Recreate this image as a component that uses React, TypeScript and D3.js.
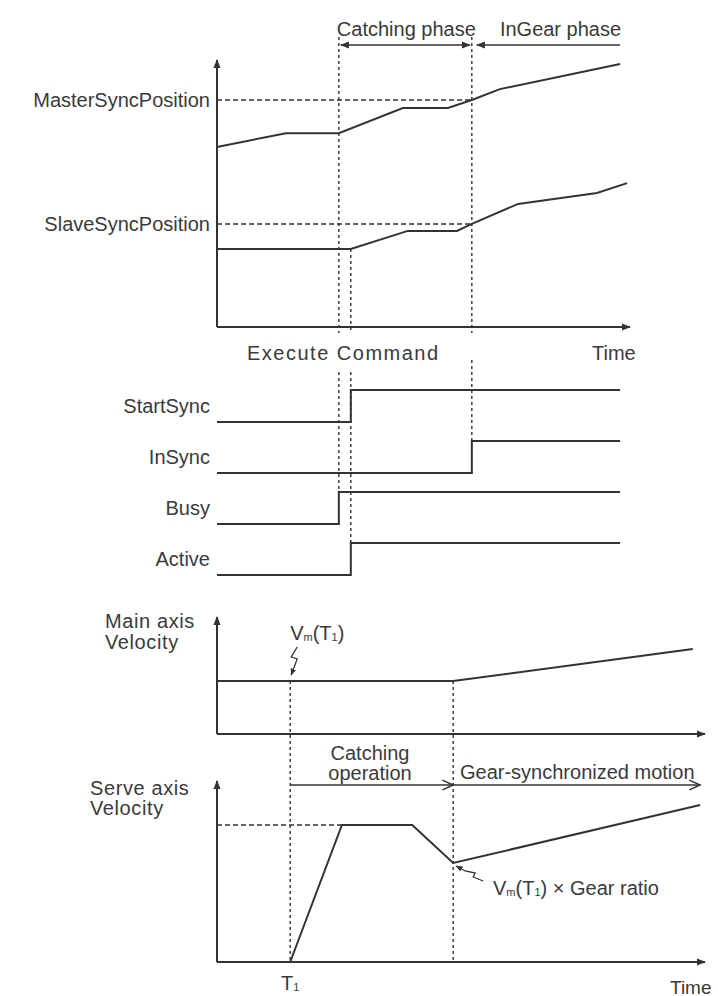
import * as d3 from "d3";

// --- top panel: position vs time (time 0..100, position 0..100)
const masterT = [0, 16.7, 29.5, 45.0, 55.9, 61.7, 68.5, 97.6];
const masterPos = [67.4, 72.6, 72.6, 82.0, 82.0, 85.0, 89.1, 98.5];
const slaveT = [0, 32.4, 46.2, 58.1, 61.7, 72.9, 92.0, 99.3];
const slavePos = [29.2, 29.2, 36.0, 36.0, 38.6, 46.1, 50.2, 53.9];
const masterSync = 85.0;
const slaveSync = 38.6;
const executeT = 29.5;
const catchT = 32.4;
const inGearT = 61.7;

// --- status signals
const signalNames = ["StartSync", "InSync", "Busy", "Active"];
const signalRiseT = [32.4, 61.7, 29.5, 32.4];
const signalEndT = 97.6;

// --- bottom panels: velocity vs time
const velT1 = 15.0;
const velGearT = 48.4;
const mainVelT = [0, 48.4, 97.5];
const mainVel = [45.3, 45.3, 72.6];
const serveT = [15.0, 25.6, 40.0, 48.4, 99.0];
const serveVel = [0, 75.7, 75.7, 54.7, 86.7];
const servePeak = 75.7;

const ink = "#333";
const txt = "#3a3a3a";
const font = "'Liberation Sans', Arial, sans-serif";

export default function App() {
  const width = 718;
  const height = 996;

  const xTop = d3.scaleLinear().domain([0, 100]).range([217, 630]);
  const yTop = d3.scaleLinear().domain([0, 100]).range([327, 60]);
  const rowY = d3.scalePoint().domain(signalNames).range([406, 559]);
  const half = 16;

  const xVel = d3.scaleLinear().domain([0, 100]).range([217, 705]);
  const yMain = d3.scaleLinear().domain([0, 100]).range([734, 617]);
  const yServe = d3.scaleLinear().domain([0, 100]).range([962, 781]);

  const masterLine = d3.line<number>().x((d, i) => xTop(masterT[i])).y((d) => yTop(d));
  const slaveLine = d3.line<number>().x((d, i) => xTop(slaveT[i])).y((d) => yTop(d));
  const mainLine = d3.line<number>().x((d, i) => xVel(mainVelT[i])).y((d) => yMain(d));
  const serveLine = d3.line<number>().x((d, i) => xVel(serveT[i])).y((d) => yServe(d));

  const x0 = xTop(0);
  const dashV = "3,3";
  const dashH = "5,3";

  const signalPath = (name: string, i: number) => {
    const c = rowY(name)!;
    const xr = xTop(signalRiseT[i]);
    return `M${x0},${c + half}H${xr}V${c - half}H${xTop(signalEndT)}`;
  };

  const gx = xVel(velGearT);
  const gy = yServe(serveVel[3]);
  const tx = xVel(velT1);
  const ty = yMain(mainVel[0]);

  return (
    <div style={{ position: "absolute", left: 0, top: 0 }}>
      <svg width={width} height={height} style={{ display: "block", background: "#fff" }} fontFamily={font}>
        <defs>
          <marker id="tri" viewBox="0 0 10 10" refX="9" refY="5" markerWidth="9" markerHeight="9"
            markerUnits="userSpaceOnUse" orient="auto-start-reverse">
            <path d="M0,1L10,5L0,9Z" fill={ink} />
          </marker>
          <marker id="chev" viewBox="0 0 10 10" refX="9" refY="5" markerWidth="14" markerHeight="12"
            markerUnits="userSpaceOnUse" orient="auto">
            <path d="M0,1L9,5L0,9" fill="none" stroke={ink} strokeWidth="1.2" />
          </marker>
          <marker id="small" viewBox="0 0 10 10" refX="9" refY="5" markerWidth="7" markerHeight="7"
            markerUnits="userSpaceOnUse" orient="auto">
            <path d="M0,1L10,5L0,9Z" fill={ink} />
          </marker>
        </defs>

        {/* phase arrows */}
        <g stroke={ink} strokeWidth="1.6">
          <line x1={xTop(executeT) + 2} x2={xTop(inGearT) - 2} y1={45} y2={45}
            markerStart="url(#tri)" markerEnd="url(#tri)" />
          <line x1={xTop(inGearT) + 5} x2={xTop(97.6)} y1={45} y2={45} markerStart="url(#tri)" />
        </g>
        <g fill={txt} fontSize="20" dominantBaseline="central">
          <text x={xTop(executeT) - 2} y={29}>Catching phase</text>
          <text x={xTop(68.5)} y={29}>InGear phase</text>
        </g>

        {/* top panel axes */}
        <g stroke={ink} strokeWidth="2" fill="none">
          <line x1={x0} x2={x0} y1={yTop(0)} y2={yTop(100)} markerEnd="url(#tri)" />
          <line x1={x0} x2={xTop(100)} y1={yTop(0)} y2={yTop(0)} markerEnd="url(#tri)" />
        </g>

        {/* guide lines */}
        <g stroke={ink} strokeWidth="1.4" fill="none">
          <line x1={x0} x2={xTop(inGearT)} y1={yTop(masterSync)} y2={yTop(masterSync)} strokeDasharray={dashH} />
          <line x1={x0} x2={xTop(inGearT)} y1={yTop(slaveSync)} y2={yTop(slaveSync)} strokeDasharray={dashH} />
          <line x1={xTop(executeT)} x2={xTop(executeT)} y1={37} y2={333} strokeDasharray={dashV} />
          <line x1={xTop(inGearT)} x2={xTop(inGearT)} y1={37} y2={333} strokeDasharray={dashV} />
          <line x1={xTop(catchT)} x2={xTop(catchT)} y1={yTop(slavePos[0])} y2={333} strokeDasharray={dashV} />
          <line x1={xTop(executeT)} x2={xTop(executeT)} y1={372} y2={rowY("Busy")! - half} strokeDasharray={dashV} />
          <line x1={xTop(catchT)} x2={xTop(catchT)} y1={372} y2={rowY("Active")! - half} strokeDasharray={dashV} />
          <line x1={xTop(inGearT)} x2={xTop(inGearT)} y1={360} y2={rowY("InSync")! - half} strokeDasharray={dashV} />
        </g>

        {/* master / slave positions */}
        <g stroke={ink} strokeWidth="2" fill="none">
          <path d={masterLine(masterPos)!} />
          <path d={slaveLine(slavePos)!} />
        </g>
        <g fill={txt} fontSize="20" textAnchor="end" dominantBaseline="central">
          <text x={210} y={yTop(masterSync)}>MasterSyncPosition</text>
          <text x={210} y={yTop(slaveSync)}>SlaveSyncPosition</text>
        </g>
        <g fill={txt} fontSize="20" dominantBaseline="central">
          <text x={247} y={353} letterSpacing="1.5">Execute Command</text>
          <text x={592} y={353}>Time</text>
        </g>

        {/* signals */}
        <g stroke={ink} strokeWidth="2" fill="none">
          {signalNames.map((n, i) => (
            <path key={n} d={signalPath(n, i)} />
          ))}
        </g>
        <g fill={txt} fontSize="20" textAnchor="end" dominantBaseline="central">
          {signalNames.map((n) => (
            <text key={n} x={210} y={rowY(n)}>{n}</text>
          ))}
        </g>

        {/* velocity axes */}
        <g stroke={ink} strokeWidth="2" fill="none">
          <line x1={x0} x2={x0} y1={yMain(0)} y2={yMain(100)} markerEnd="url(#tri)" />
          <line x1={x0} x2={xVel(100)} y1={yMain(0)} y2={yMain(0)} markerEnd="url(#tri)" />
          <line x1={x0} x2={x0} y1={yServe(0)} y2={yServe(100)} markerEnd="url(#tri)" />
          <line x1={x0} x2={xVel(100)} y1={yServe(0)} y2={yServe(0)} markerEnd="url(#tri)" />
        </g>
        <g stroke={ink} strokeWidth="1.4" fill="none">
          <line x1={tx} x2={tx} y1={ty} y2={yServe(0)} strokeDasharray={dashV} />
          <line x1={gx} x2={gx} y1={yMain(mainVel[1])} y2={yServe(0)} strokeDasharray={dashV} />
          <line x1={x0} x2={xVel(serveT[1])} y1={yServe(servePeak)} y2={yServe(servePeak)} strokeDasharray={dashH} />
        </g>
        <g stroke={ink} strokeWidth="2" fill="none">
          <path d={mainLine(mainVel)!} />
          <path d={serveLine(serveVel)!} />
        </g>

        {/* operation arrows */}
        <g stroke={ink} strokeWidth="1.6" fill="none">
          <line x1={tx} x2={gx} y1={785} y2={785} markerEnd="url(#chev)" />
          <line x1={gx} x2={xVel(99)} y1={785} y2={785} markerEnd="url(#chev)" />
        </g>

        {/* callout squiggles */}
        <g stroke={ink} strokeWidth="1.3" fill="none">
          <path d={`M${tx + 7},${ty - 34}L${tx + 1},${ty - 24}L${tx + 7},${ty - 22}L${tx + 1},${ty - 6}`} markerEnd="url(#small)" />
          <path d={`M${gx + 30},${gy + 18}L${gx + 20},${gy + 14}L${gx + 22},${gy + 10}L${gx + 12},${gy + 8}L${gx + 3},${gy + 3}`} markerEnd="url(#small)" />
        </g>

        <g fill={txt} fontSize="20" dominantBaseline="central">
          <text x={105} y={621} letterSpacing="0.6">Main axis</text>
          <text x={105} y={642} letterSpacing="0.6">Velocity</text>
          <text x={90} y={788} letterSpacing="0.6">Serve axis</text>
          <text x={90} y={808} letterSpacing="0.6">Velocity</text>
          <text x={370} y={753} textAnchor="middle">Catching</text>
          <text x={370} y={773} textAnchor="middle">operation</text>
          <text x={460} y={772}>Gear-synchronized motion</text>
          <text x={tx} y={633}>
            V<tspan fontSize="11" dy="4">m</tspan><tspan dy="-4">(T</tspan><tspan fontSize="11" dy="4">1</tspan><tspan dy="-4">)</tspan>
          </text>
          <text x={493} y={888}>
            V<tspan fontSize="11" dy="4">m</tspan><tspan dy="-4">(T</tspan><tspan fontSize="11" dy="4">1</tspan><tspan dy="-4">) × Gear ratio</tspan>
          </text>
          <text x={tx} y={983} textAnchor="middle">
            T<tspan fontSize="11" dy="4">1</tspan>
          </text>
          <text x={670} y={987} fontSize="19">Time</text>
        </g>
      </svg>
    </div>
  );
}
